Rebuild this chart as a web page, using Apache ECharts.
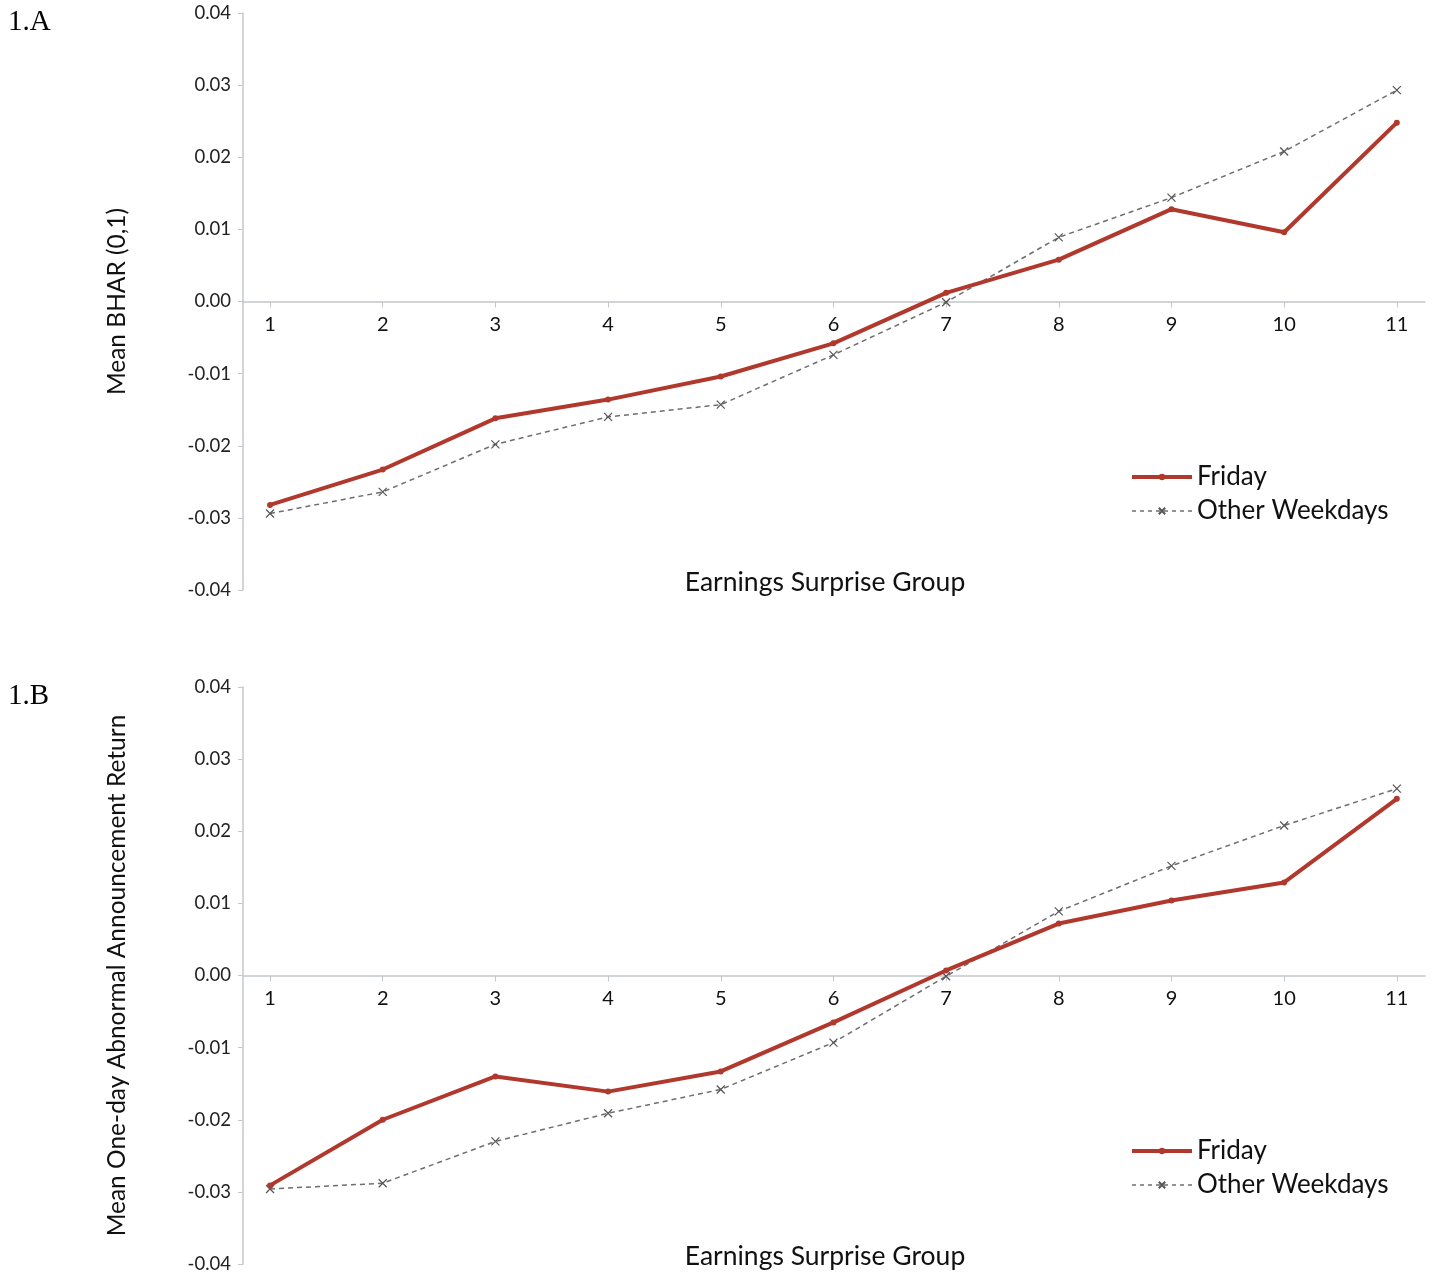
<!DOCTYPE html>
<html>
<head>
<meta charset="utf-8">
<style>
html,body{margin:0;padding:0;background:#fff;}
#c{width:1440px;height:1274px;}
</style>
<script src="https://cdn.jsdelivr.net/npm/echarts@6/dist/echarts.min.js"></script>
</head>
<body>
<div id="c"></div>
<script>
const categories = [1, 2, 3, 4, 5, 6, 7, 8, 9, 10, 11];
const yTicks = [-0.04, -0.03, -0.02, -0.01, 0, 0.01, 0.02, 0.03, 0.04];

const fridayA = [-0.0282, -0.0233, -0.0162, -0.0136, -0.0104, -0.0058, 0.0012, 0.0058, 0.0128, 0.0096, 0.0248];
const otherA  = [-0.0294, -0.0264, -0.0198, -0.0160, -0.0143, -0.0074, -0.0001, 0.0089, 0.0144, 0.0208, 0.0293];
const fridayB = [-0.0291, -0.0200, -0.0140, -0.0161, -0.0133, -0.0065, 0.0007, 0.0072, 0.0104, 0.0129, 0.0245];
const otherB  = [-0.0296, -0.0288, -0.0230, -0.0191, -0.0158, -0.0093, -0.0001, 0.0089, 0.0152, 0.0208, 0.0259];

const panelLabels = ['1.A', '1.B'];
const yNames = ['Mean BHAR (0,1)', 'Mean One-day Abnormal Announcement Return'];
const xName = 'Earnings Surprise Group';
const seriesNames = ['Friday', 'Other Weekdays'];

const FONT = 'Lato';
const axisGrey = '#c4c7cc';
const red = '#b0382c';
const grey = '#6e6e6e';

function pairs(vals) { return categories.map((c, i) => [c, vals[i]]); }

const GH = 577;
const grids = [
  { left: 243, top: 13, width: 1182, height: GH },
  { left: 243, top: 687, width: 1182, height: GH }
];

function xAxis(gi) {
  return {
    type: 'value', gridIndex: gi, min: 0.76, max: 11.25, position: 'bottom',
    offset: -GH / 2,
    axisLine: { show: true, onZero: false, lineStyle: { color: axisGrey, width: 1.5 } },
    axisTick: { show: true, customValues: categories, length: 6, lineStyle: { color: axisGrey } },
    axisLabel: { customValues: categories, color: '#111', fontSize: 20, fontFamily: FONT, margin: 13 },
    splitLine: { show: false }
  };
}
function yAxis(gi) {
  return {
    type: 'value', gridIndex: gi, min: -0.04, max: 0.04, interval: 0.01,
    name: yNames[gi], nameLocation: 'middle', nameGap: 113,
    nameTextStyle: { fontSize: 24.5, fontFamily: FONT, color: '#111' },
    axisLine: { show: true, lineStyle: { color: axisGrey, width: 1.5 } },
    axisTick: { show: true, length: 5, lineStyle: { color: axisGrey } },
    axisLabel: { color: '#222', fontSize: 18.5, fontFamily: FONT, margin: 12,
      formatter: v => (Math.abs(v) < 1e-9 ? 0 : v).toFixed(2) },
    splitLine: { show: false }
  };
}
const xSym = 'path://M0,0L10,10M10,0L0,10';
function seriesFor(gi, fri, oth) {
  return [
    { name: seriesNames[0], type: 'line', xAxisIndex: gi, yAxisIndex: gi, data: pairs(fri),
      symbol: 'circle', symbolSize: 6, z: 3,
      lineStyle: { color: red, width: 4 }, itemStyle: { color: red } },
    { name: seriesNames[1], type: 'line', xAxisIndex: gi, yAxisIndex: gi, data: pairs(oth),
      symbol: xSym, symbolSize: 8, z: 2,
      lineStyle: { color: grey, width: 1.5, type: [5, 4] },
      itemStyle: { color: 'none', borderColor: '#555', borderWidth: 1.2 } }
  ];
}
function legend(top) {
  return {
    orient: 'vertical', left: 1125, top: top, itemWidth: 60, itemHeight: 8, itemGap: 8,
    data: [
      { name: seriesNames[0], lineStyle: { width: 4, color: red } },
      { name: seriesNames[1], lineStyle: { width: 1.5, color: grey, type: [4, 4] } }
    ],
    textStyle: { fontSize: 26, fontFamily: FONT, color: '#111', padding: [0, 0, 0, 0] },
    selectedMode: false
  };
}

const option = {
  animation: false,
  backgroundColor: '#fff',
  grid: grids,
  xAxis: [xAxis(0), xAxis(1)],
  yAxis: [yAxis(0), yAxis(1)],
  legend: [legend(459), legend(1133)],
  series: [].concat(seriesFor(0, fridayA, otherA), seriesFor(1, fridayB, otherB)),
  graphic: [
    { type: 'text', left: 8, top: 8, style: { text: panelLabels[0], font: '29px "Liberation Serif"', fill: '#000' } },
    { type: 'text', left: 8, top: 682, style: { text: panelLabels[1], font: '29px "Liberation Serif"', fill: '#000' } },
    { type: 'text', x: 825, y: 582, style: { text: xName, font: '26.5px ' + FONT, fill: '#111', align: 'center', verticalAlign: 'middle' } },
    { type: 'text', x: 825, y: 1256, style: { text: xName, font: '26.5px ' + FONT, fill: '#111', align: 'center', verticalAlign: 'middle' } }
  ]
};
const chart = echarts.init(document.getElementById('c'));
chart.setOption(option);
</script>
</body>
</html>
